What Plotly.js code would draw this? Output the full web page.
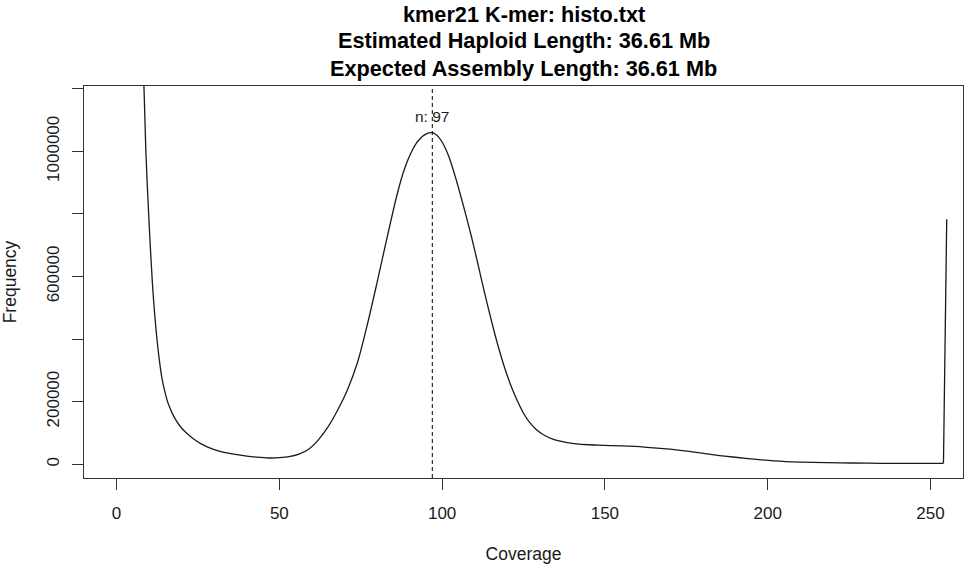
<!DOCTYPE html>
<html>
<head>
<meta charset="utf-8">
<script src="https://cdn.plot.ly/plotly-3.0.1.min.js"></script>
<style>
  html, body { margin: 0; padding: 0; background: #ffffff; }
  #chart { width: 978px; height: 572px; }
</style>
</head>
<body>
<div id="chart"></div>
<script>
// Data
const coverage = [5,6,7,8,9,10,11,12,13,14,15,16,18,20,22,24,26,28,30,33,36,40,44,47,50,53,56,59,62,65,68,71,74,77,80,83,86,88,89,90,91,92,93,94,95,96,97,98,99,100,101,102,103,104,105,107,109,111,113,115,117,119,121,123,125,127,129,131,134,138,142,148,155,162,170,178,186,194,202,210,218,226,235,245,254,255];
const frequency = [3500000,2600000,1900000,1380000,1000000,770000,580000,445000,345000,272000,225000,190000,145000,115000,95000,78000,65000,55000,47000,38000,32000,26000,22000,20000,21000,24000,32000,48000,78000,120000,175000,240000,325000,445000,580000,720000,855000,930000,960000,985000,1007000,1025000,1038000,1048000,1055000,1059000,1060000,1055000,1045000,1030000,1010000,985000,955000,921000,885000,808000,728000,640000,550000,465000,385000,315000,255000,205000,163000,132000,110000,95000,80000,70000,64000,61000,58500,55000,48000,38000,27000,18000,11000,7000,5000,4000,3000,3000,3000,783000];
const peakCoverage = 97;
const peakLabelY = 1110000;
const peakLabel = "n: 97";
const xTickVals = [0, 50, 100, 150, 200, 250];
const yTickVals = [0, 200000, 400000, 600000, 800000, 1000000, 1200000];
const yTickText = ["0", "200000", "", "600000", "", "1000000", ""];
const titleLines = ["kmer21 K-mer: histo.txt", "Estimated Haploid Length: 36.61 Mb", "Expected Assembly Length: 36.61 Mb"];

const FONT = "Liberation Sans, Arial, Helvetica, sans-serif";
const INK = "#1a1a1a";

// smooth body of the histogram, and the last (overflow) bin as a straight jump
const n = coverage.length;
const body = {
  x: coverage.slice(0, n - 1),
  y: frequency.slice(0, n - 1),
  type: "scatter",
  mode: "lines",
  line: { color: INK, width: 1.3, shape: "spline", smoothing: 0.8 },
  hoverinfo: "x+y",
  showlegend: false
};
const tail = {
  x: coverage.slice(n - 2),
  y: frequency.slice(n - 2),
  type: "scatter",
  mode: "lines",
  line: { color: INK, width: 1.3 },
  hoverinfo: "x+y",
  showlegend: false
};

// plot area: top 86px, bottom 478px (height 392px)
const plotTop = 86, plotBottom = 478, plotH = plotBottom - plotTop;
const titleCentersPx = [14, 41, 68];
const titleAnnotations = titleLines.map((t, i) => ({
  xref: "paper", yref: "paper",
  x: 0.5, y: (plotBottom - titleCentersPx[i]) / plotH,
  xanchor: "center", yanchor: "middle",
  text: "<b>" + t + "</b>",
  showarrow: false,
  font: { family: FONT, size: 21.7, color: "#000000" }
}));

const layout = {
  width: 978,
  height: 572,
  margin: { l: 84, r: 15, t: 86, b: 94 },
  paper_bgcolor: "#ffffff",
  plot_bgcolor: "#ffffff",
  font: { family: FONT, color: INK },
  xaxis: {
    range: [-10, 260],
    tickmode: "array",
    tickvals: xTickVals,
    ticks: "outside",
    ticklen: 11,
    tickwidth: 1,
    tickcolor: "#333333",
    showline: true,
    mirror: true,
    linecolor: "#333333",
    linewidth: 1.2,
    showgrid: false,
    zeroline: false,
    tickfont: { family: FONT, size: 17, color: INK },
    ticklabelstandoff: 8,
    title: { text: "Coverage", font: { family: FONT, size: 17.5, color: INK }, standoff: 26 }
  },
  yaxis: {
    range: [-44000, 1209000],
    tickmode: "array",
    tickvals: yTickVals,
    ticktext: yTickText,
    tickangle: -90,
    ticks: "outside",
    ticklen: 11,
    tickwidth: 1,
    tickcolor: "#333333",
    showline: true,
    mirror: true,
    linecolor: "#333333",
    linewidth: 1.2,
    showgrid: false,
    zeroline: false,
    tickfont: { family: FONT, size: 17, color: INK },
    ticklabelstandoff: 6,
    title: { text: "Frequency", font: { family: FONT, size: 17.5, color: INK }, standoff: 23 }
  },
  shapes: [{
    type: "line",
    xref: "x", yref: "paper",
    x0: peakCoverage, x1: peakCoverage, y0: 0, y1: 1,
    line: { color: INK, width: 1.1, dash: "4px,3px" }
  }],
  annotations: titleAnnotations.concat([{
    xref: "x", yref: "y",
    x: peakCoverage, y: peakLabelY,
    text: peakLabel,
    showarrow: false,
    xanchor: "center", yanchor: "middle",
    font: { family: FONT, size: 15.5, color: INK }
  }])
};

Plotly.newPlot("chart", [body, tail], layout, { staticPlot: true, displayModeBar: false });
</script>
</body>
</html>
